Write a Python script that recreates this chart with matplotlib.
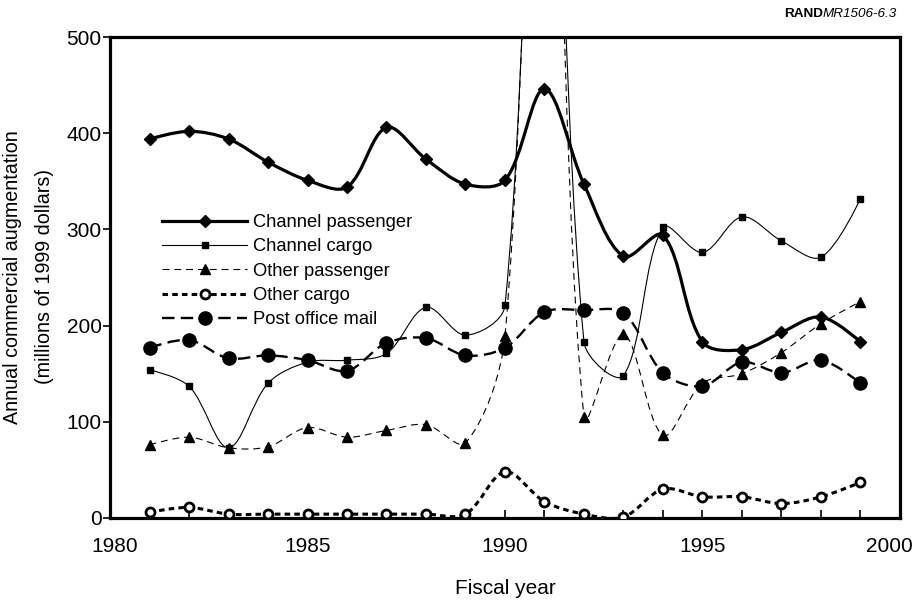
import matplotlib
matplotlib.use("Agg")
import matplotlib.pyplot as plt
import matplotlib.transforms as mtransforms
from matplotlib.path import Path
from matplotlib.patches import PathPatch
from matplotlib.lines import Line2D
import numpy as np

plt.rcParams['font.family'] = ['Liberation Sans', 'DejaVu Sans']
plt.rcParams['lines.scale_dashes'] = False

# values (millions of 1999 dollars); 1991 spikes run off the top
years = list(range(1981, 2000))
channel_passenger = [394, 402, 394, 370, 351, 344, 406, 373, 347, 351, 446, 347,
                     272, 294, 183, 175, 193, 209, 183]
channel_cargo = [154, 137, 73, 140, 162, 164, 171, 219, 190, 221, 1000, 183,
                 148, 302, 276, 313, 288, 271, 332]
other_passenger = [76, 84, 73, 74, 94, 84, 91, 97, 78, 189, 1000, 105,
                   191, 86, 140, 150, 172, 202, 225]
other_cargo = [6, 11, 4, 4, 4, 4, 4, 4, 4, 48, 17, 4, 1, 30, 22, 22, 15, 22, 37]
post_office_mail = [177, 185, 166, 169, 164, 153, 182, 187, 169, 177, 214, 216,
                    213, 151, 137, 162, 151, 164, 140]

series_names = ["Channel passenger", "Channel cargo", "Other passenger",
                "Other cargo", "Post office mail"]
x_ticks = [1980, 1985, 1990, 1995, 2000]
y_ticks = [0, 100, 200, 300, 400, 500]


def smooth_path(ax, x, y, t=1/3):
    # excel-like smoothed line, control points worked out in screen space
    p = ax.transData.transform(np.column_stack([x, y]).astype(float))
    n = len(p)
    c_in = p.copy()
    c_out = p.copy()
    for i in range(1, n - 1):
        d01 = np.hypot(*(p[i] - p[i - 1]))
        d12 = np.hypot(*(p[i + 1] - p[i]))
        span = p[i + 1] - p[i - 1]
        c_in[i] = p[i] - t * d01 / (d01 + d12) * span
        c_out[i] = p[i] + t * d12 / (d01 + d12) * span
    verts = [p[0]]
    codes = [Path.MOVETO]
    for i in range(n - 1):
        verts += [c_out[i], c_in[i + 1], p[i + 1]]
        codes += [Path.CURVE4] * 3
    verts = ax.transData.inverted().transform(np.array(verts))
    return Path(verts, codes)


styles = [
    dict(lw=2.3, ls='-', marker='D', ms=6.5, mfc='black'),
    dict(lw=0.8, ls='-', marker='s', ms=3.8, mfc='black'),
    dict(lw=0.8, ls=(0, (5, 3.5)), marker='^', ms=6.5, mfc='black'),
    dict(lw=2.2, ls=(0, (4, 3)), marker='o', ms=6.5, mfc='white', mew=2),
    dict(lw=1.7, ls=(0, (9, 4.5)), marker='o', ms=9.5, mfc='black'),
]
data = [channel_passenger, channel_cargo, other_passenger, other_cargo, post_office_mail]

fig = plt.figure(figsize=(9.16, 6.03), dpi=100)
ax = fig.add_axes([0.1201, 0.1410, 0.8624, 0.7976])
ax.set_xlim(1980, 2000)
ax.set_ylim(0, 500)

handles = []
for name, vals, st in zip(series_names, data, styles):
    patch = PathPatch(smooth_path(ax, years, vals), fill=False, edgecolor='black',
                      lw=st['lw'], linestyle=st['ls'], zorder=2)
    ax.add_patch(patch)
    ax.plot(years, vals, linestyle='none', marker=st['marker'], ms=st['ms'],
            mfc=st['mfc'], mec='black', mew=st.get('mew', 1), zorder=3)
    handles.append(Line2D([], [], color='black', lw=st['lw'], linestyle=st['ls'],
                          marker=st['marker'], ms=st['ms'], mfc=st['mfc'],
                          mec='black', mew=st.get('mew', 1), label=name))

ax.set_xticks(x_ticks)
ax.set_xticks(range(1980, 2001), minor=True)
ax.set_yticks(y_ticks)
ax.tick_params(axis='x', which='both', direction='in', length=6, width=1.2,
               labelsize=15, pad=14)
ax.tick_params(axis='y', direction='out', length=5, width=1.2, labelsize=15, pad=1)
for sp in ax.spines.values():
    sp.set_linewidth(2.3)

# end labels are nudged inwards, as in the original
labels = ax.get_xticklabels()
labels[0].set_transform(labels[0].get_transform()
                        + mtransforms.ScaledTranslation(5 / 100, 0, fig.dpi_scale_trans))
labels[-1].set_transform(labels[-1].get_transform()
                         + mtransforms.ScaledTranslation(-11 / 100, 0, fig.dpi_scale_trans))

ax.legend(handles=handles, loc='upper left', bbox_to_anchor=(0.066, 0.632),
          frameon=False, fontsize=13.2, handlelength=4.64, handletextpad=0.33,
          labelspacing=0.4, borderpad=0, borderaxespad=0, numpoints=1)

fig.text(505 / 916, 1 - 589 / 603, "Fiscal year", ha='center', va='center', fontsize=15)
fig.text(18 / 916, 1 - 277 / 603, "Annual commercial augmentation", rotation=90,
         rotation_mode='anchor', ha='center', va='baseline', fontsize=14.2)
fig.text(50 / 916, 1 - 277 / 603, "(millions of 1999 dollars)", rotation=90,
         rotation_mode='anchor', ha='center', va='baseline', fontsize=14.2)

t1 = fig.text(897 / 916, 1 - 14 / 603, "MR1506-6.3", ha='right', va='center',
              fontsize=9.7, style='italic')
fig.canvas.draw()
bb = t1.get_window_extent()
fig.text(bb.x0 / 916, 1 - 14 / 603, "RAND", ha='right', va='center',
         fontsize=9.7, weight='bold')

fig.savefig("out.png", dpi=100)
